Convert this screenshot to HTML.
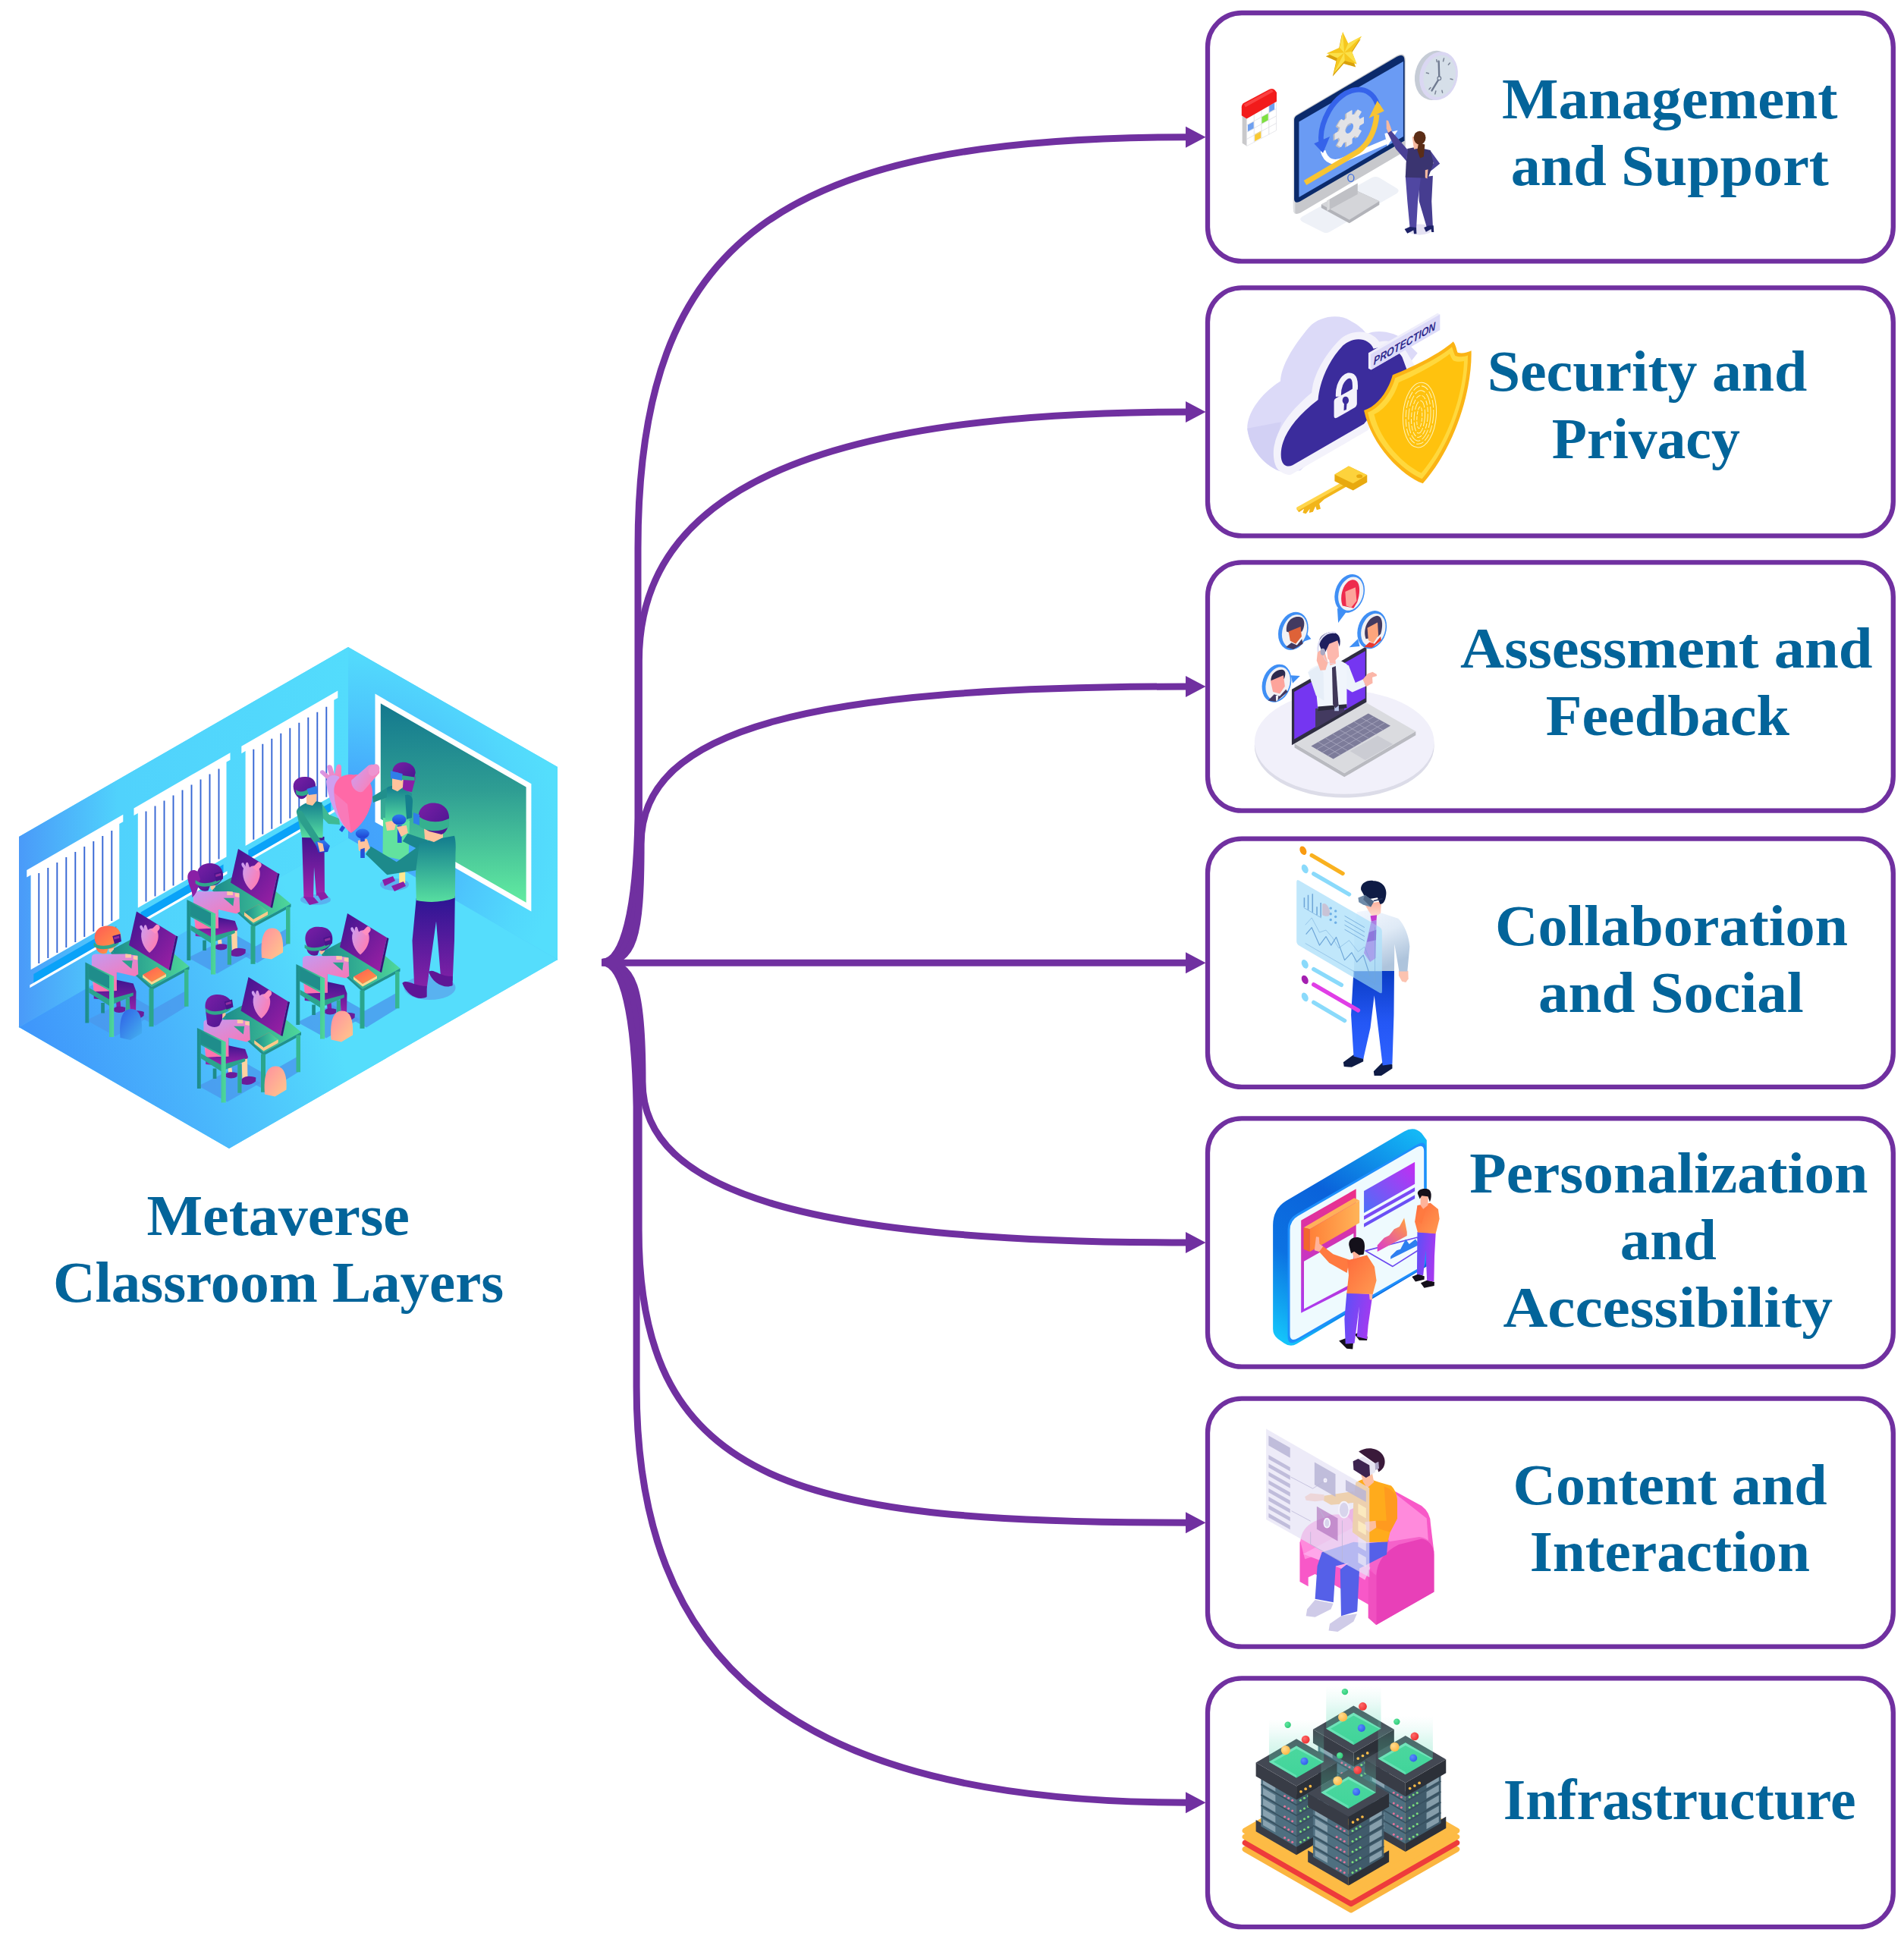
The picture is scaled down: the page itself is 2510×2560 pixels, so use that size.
<!DOCTYPE html>
<html><head><meta charset="utf-8"><title>Metaverse Classroom Layers</title>
<style>
html,body{margin:0;padding:0;background:#fff;}
body{width:2510px;height:2560px;overflow:hidden;font-family:"Liberation Serif",serif;}
svg{display:block;position:absolute;left:0;top:0;}
text{font-family:"Liberation Serif",serif;font-weight:bold;fill:#03649A;}
</style></head><body>
<svg width="2510" height="2560" viewBox="0 0 2510 2560">

<defs>
<linearGradient id="cLW" gradientUnits="userSpaceOnUse" x1="25" y1="0" x2="459" y2="0"><stop offset="0" stop-color="#4a9af9"/><stop offset="0.3" stop-color="#50d2fc"/><stop offset="1" stop-color="#53dcfc"/></linearGradient>
<radialGradient id="cRW" gradientUnits="userSpaceOnUse" cx="459" cy="1110" r="280"><stop offset="0" stop-color="#429ffc"/><stop offset="0.3" stop-color="#45a9fc"/><stop offset="0.6" stop-color="#4dc6fc"/><stop offset="0.85" stop-color="#52d8fc"/><stop offset="1" stop-color="#54defc"/></radialGradient>
<linearGradient id="cFL" gradientUnits="userSpaceOnUse" x1="60" y1="1420" x2="420" y2="1300"><stop offset="0" stop-color="#3f97fb"/><stop offset="0.45" stop-color="#49b4fc"/><stop offset="1" stop-color="#55ddfc"/></linearGradient>
<linearGradient id="cBoard" gradientUnits="userSpaceOnUse" x1="0" y1="927" x2="0" y2="1185"><stop offset="0" stop-color="#13788e"/><stop offset="0.45" stop-color="#2f9e93"/><stop offset="1" stop-color="#60e9a0"/></linearGradient>
<linearGradient id="cGreen" x1="0" y1="0" x2="0" y2="1"><stop offset="0" stop-color="#127b8e"/><stop offset="1" stop-color="#57dea0"/></linearGradient>
<linearGradient id="cGreenH" x1="0" y1="0" x2="1" y2="0"><stop offset="0" stop-color="#1b8a8b"/><stop offset="1" stop-color="#4fd89a"/></linearGradient>
<linearGradient id="cPurp" x1="0" y1="0" x2="0" y2="1"><stop offset="0" stop-color="#3f158f"/><stop offset="1" stop-color="#a224ac"/></linearGradient>
<linearGradient id="cNavy" x1="0" y1="0" x2="0" y2="1"><stop offset="0" stop-color="#2a1593"/><stop offset="1" stop-color="#8a22a8"/></linearGradient>
<linearGradient id="cMon" x1="0" y1="0" x2="1" y2="1"><stop offset="0" stop-color="#3d1490"/><stop offset="1" stop-color="#a021a5"/></linearGradient>
<linearGradient id="cShirt" x1="0" y1="0" x2="0.6" y2="1"><stop offset="0" stop-color="#c39af2"/><stop offset="1" stop-color="#ff74ae"/></linearGradient>
<linearGradient id="cHeartS" x1="0" y1="0" x2="1" y2="0.6"><stop offset="0" stop-color="#c9a0f5"/><stop offset="1" stop-color="#ff7db2"/></linearGradient>
<linearGradient id="cHair" x1="0" y1="0" x2="1" y2="1"><stop offset="0" stop-color="#7a1fa6"/><stop offset="1" stop-color="#47158f"/></linearGradient>
<linearGradient id="cBlueC" x1="0" y1="0" x2="0" y2="1"><stop offset="0" stop-color="#2f7bf0"/><stop offset="1" stop-color="#1d3fd0"/></linearGradient>
<linearGradient id="cPeach" x1="0" y1="0" x2="1" y2="1"><stop offset="0" stop-color="#ff8fa0"/><stop offset="1" stop-color="#ffc98a"/></linearGradient>
<linearGradient id="cBag" x1="0" y1="0" x2="1" y2="1"><stop offset="0" stop-color="#2f5fe6"/><stop offset="1" stop-color="#45b4f0"/></linearGradient>
<linearGradient id="cOrange" x1="0" y1="0" x2="1" y2="1"><stop offset="0" stop-color="#ff5a55"/><stop offset="1" stop-color="#ff9a45"/></linearGradient>

<!-- window blind unit: origin at header top-left; goes right-up with slope -0.577, width 127 -->
<g id="cWin">
  <path d="M0,0 L127,-73.3 L127,-63.8 L122,-60.9 L122,64 L5.3,131.3 L5.3,6.4 L0,9.5 Z" fill="#fff"/>
  <path d="M9,137 L118,74 L118,86 L9,149 Z" fill="#0aa2f8"/>
  <path d="M4,151.5 L123,82.8 L123,86.6 L4,155.3 Z" fill="#fff"/>
  <g stroke="#3566d4" stroke-width="1.9">
   <path d="M16,4 V123 M28,-3 V116 M40,-10 V109 M52,-17 V102 M64,-24 V95 M76,-31 V88 M88,-38 V81 M100,-45 V74 M112,-52 V67"/>
  </g>
</g>

<!-- mini heart on monitors, centered at 0,0 approx 26x38 -->
<g id="cMiniHeart">
  <path d="M-9,-10 C-13,-14 -12,-18 -9,-17 L-6,-12 C-7,-16 -5,-19 -3,-17 L-1,-11 C4,-15 10,-13 12,-8 C15,2 8,14 1,19 C-7,12 -12,0 -9,-10 Z" fill="url(#cHeartS)"/>
  <path d="M3,-11 L10,-18 C13,-19 16,-15 14,-12 L9,-6 Z" fill="#ff8fc0"/>
</g>

<!-- student desk unit in absolute coords of desk A -->
<g id="cDeskBase">
  <!-- floor shadows -->
  <path d="M150,1300 L203,1330 L247,1305 L247,1326 L205,1352 L150,1322 Z" fill="#4a98ec" opacity="0.8"/>
  <path d="M114,1345 L152,1366 L196,1341 L160,1322 Z" fill="#4a98ec" opacity="0.8"/>
  <!-- desk back/left legs -->
  <path d="M149,1256 h5 v50 h-5 Z" fill="#1e8c8a"/>
  <!-- desk top -->
  <path d="M146,1252.5 L193.4,1227.5 L249.5,1274 L200,1301 Z" fill="url(#cGreenH)"/>
  <path d="M146,1252.5 L200,1301 L249.5,1274 L249.5,1278 L200,1305 L146,1256.5 Z" fill="#22918a"/>
  <!-- desk legs front + right -->
  <path d="M196.5,1303 h6 v50.3 h-6 Z" fill="#2aa58c"/>
  <path d="M243,1278 h5.5 v48.8 h-5.5 Z" fill="#36b790"/>
</g>
<g id="cDeskTop">
  <!-- monitor -->
  <path d="M180,1201.5 L232,1233.5 L222.5,1278.5 L170,1246 Z" fill="url(#cMon)"/>
  <path d="M232,1233.5 L234.5,1234.5 L225,1279.5 L222.5,1278.5 Z" fill="#3a1078"/>
  <use href="#cMiniHeart" x="196" y="1237"/>
  <!-- book -->
  <path d="M188,1285 L207,1274.5 L219,1284 L200,1294.5 Z" fill="url(#cOrange)"/>
  <path d="M188,1285 L200,1294.5 L219,1284 L219,1287.5 L200,1298 L188,1288.5 Z" fill="#ffd890"/>
</g>
<g id="cBookTeal">
  <path d="M188,1285 L207,1274.5 L219,1284 L200,1294.5 Z" fill="url(#cGreenH)"/>
  <path d="M188,1285 L200,1294.5 L219,1284 L219,1288.5 L200,1299 L188,1289.5 Z" fill="#ffc98a"/>
</g>
<g id="cStudentTorso">
  <path d="M120.9,1262 C121,1259 123,1258 126,1257.5 L145.4,1257.8 L166.2,1257.5 L181.4,1259.7 L182.3,1284.3 L177.6,1287.1 L153.9,1281.4 L153.9,1306 L123.7,1307 L120.9,1283.3 Z" fill="url(#cShirt)"/>
  <path d="M160.6,1266.3 L174.7,1266.3 L173.3,1277 Z" fill="#2a9f8d"/>
  <path d="M165.3,1257.5 l7.6,0.5 l0,4.5 l-7.6,0 Z M175.7,1259.7 l5.7,0.5 l0,5.2 l-5.7,-1 Z" fill="#ffc9a5"/>
  <path d="M123.7,1296 L152,1290 L153.9,1306 L123.7,1307 Z" fill="#ff74ae"/>
  <path d="M143.5,1244.6 L149.6,1244 L150,1251.5 L146,1256 L143.5,1254 Z" fill="#ffc09a"/>
</g>
<g id="cLegsSkirt">
  <path d="M123.7,1306.9 L153.9,1291.8 L175.7,1296.5 L179.5,1306.9 L177.6,1311.7 L153,1319.2 L123.7,1316.4 Z" fill="url(#cPurp)"/>
  <path d="M153,1322 l5,-1 l1,10 l-5,1 Z" fill="#ffd9a5"/>
  <path d="M171,1311 L178.5,1309 L179,1336 L172,1338 Z" fill="#ffd2a0"/>
  <path d="M150.2,1329 C154,1326 160,1326.5 165.3,1328 L165,1332.5 C160,1336 154,1335.5 150.2,1333 Z" fill="#6a1b9a"/>
  <path d="M171,1336 C176,1331 184,1332 189.9,1334 L189.5,1339 C184,1344 176,1344.5 171,1342 Z" fill="#6a1b9a"/>
</g>
<g id="cLegsPants">
  <path d="M123.7,1306.9 L153.9,1291.8 L175.7,1296.5 L179.5,1306.9 L179,1336 L172,1338 L170.5,1313 L153,1319.2 L123.7,1316.4 Z" fill="url(#cPurp)"/>
  <path d="M153,1320 l5.5,-1.5 l1,12 l-5.5,1 Z" fill="#7a1fa2"/>
  <path d="M150.2,1329 C154,1326 160,1326.5 165.3,1328 L165,1332.5 C160,1336 154,1335.5 150.2,1333 Z" fill="#6a1b9a"/>
  <path d="M171,1336 C176,1331 184,1332 189.9,1334 L189.5,1339 C184,1344 176,1344.5 171,1342 Z" fill="#6a1b9a"/>
</g>
<g id="cChairFront">
  <path d="M133.2,1322 h4.7 v13.5 h-4.7 Z" fill="#1e8c8a"/>
  <path d="M165.8,1316 h5.2 v38.2 h-5.2 Z" fill="#2fa98e"/>
  <path d="M117.5,1302.2 L144,1317.3 L175.7,1308.4 L175.7,1312.6 L144,1325.8 L117.5,1308.8 Z" fill="#2ba38d"/>
  <path d="M112.4,1268.6 L150.2,1287 L150.2,1367 L144,1367 L144,1306 L117.3,1291 L117.3,1348.5 L112.4,1348.5 Z" fill="url(#cGreenH)"/>
  <path d="M117.3,1273 L144,1286 L144,1303.5 L117.3,1289 Z" fill="#1f8d8b"/>
</g>
<g id="cHeadset">
  <path d="M123.7,1239 C130,1245.5 147,1244.5 156,1236 L156.5,1240.5 C147,1249 130,1250 123.5,1243.5 Z" fill="#2fa78b"/>
  <path d="M148.3,1230.5 L158.5,1227.5 L160,1237.5 L151,1241 Z" fill="#4a148c"/>
  <path d="M150,1232 L157,1230 L157.5,1233 L150.5,1235 Z" fill="#b03aa8" opacity="0.7"/>
</g>
</defs>

<defs>
<linearGradient id="i4shirt" x1="0" y1="0" x2="0.4" y2="1"><stop offset="0" stop-color="#f4f8ff"/><stop offset="0.5" stop-color="#dfeaf6"/><stop offset="1" stop-color="#aec4dc"/></linearGradient>
<linearGradient id="i4pants" x1="0" y1="0" x2="0" y2="1"><stop offset="0" stop-color="#0a3cc4"/><stop offset="0.55" stop-color="#2457f5"/><stop offset="1" stop-color="#2e62ff"/></linearGradient>
<linearGradient id="i4neck" x1="0" y1="0" x2="0" y2="1"><stop offset="0" stop-color="#fbb09c"/><stop offset="1" stop-color="#fde0d6"/></linearGradient>
</defs>

<defs>
<linearGradient id="i5side" gradientUnits="userSpaceOnUse" x1="150" y1="1750" x2="1250" y2="100"><stop offset="0" stop-color="#14c4fa"/><stop offset="0.3" stop-color="#0c72e2"/><stop offset="0.6" stop-color="#0a62da"/><stop offset="1" stop-color="#14b8f6"/></linearGradient>
<linearGradient id="i5mag" x1="0" y1="0" x2="0" y2="1"><stop offset="0" stop-color="#ee2f86"/><stop offset="1" stop-color="#a93af2"/></linearGradient>
<linearGradient id="i5org" x1="0" y1="0" x2="1" y2="0"><stop offset="0" stop-color="#ff8038"/><stop offset="1" stop-color="#ffb458"/></linearGradient>
<linearGradient id="i5pb" x1="0" y1="1" x2="1" y2="0"><stop offset="0" stop-color="#4a70f8"/><stop offset="1" stop-color="#c42cf2"/></linearGradient>
<linearGradient id="i5ch1" x1="0" y1="1" x2="0.8" y2="0"><stop offset="0" stop-color="#d838d0"/><stop offset="1" stop-color="#ff9a48"/></linearGradient>
<linearGradient id="i5shirt" x1="0" y1="0" x2="1" y2="1"><stop offset="0" stop-color="#ff6a3a"/><stop offset="1" stop-color="#ff9a52"/></linearGradient>
<linearGradient id="i5pants" x1="0" y1="0" x2="1" y2="0.3"><stop offset="0" stop-color="#5a50f8"/><stop offset="1" stop-color="#a43af0"/></linearGradient>
</defs>

<defs>
<linearGradient id="i7glow" x1="0" y1="1" x2="0" y2="0"><stop offset="0" stop-color="#3fd4a0" stop-opacity="0.45"/><stop offset="0.6" stop-color="#6fe0c0" stop-opacity="0.22"/><stop offset="1" stop-color="#9feadc" stop-opacity="0"/></linearGradient>
<radialGradient id="i7by" cx="0.35" cy="0.35" r="0.7"><stop offset="0" stop-color="#ffdc90"/><stop offset="1" stop-color="#fdb845"/></radialGradient>
<radialGradient id="i7bb" cx="0.35" cy="0.35" r="0.7"><stop offset="0" stop-color="#5b8cff"/><stop offset="1" stop-color="#2f5fe8"/></radialGradient>
<radialGradient id="i7br" cx="0.35" cy="0.35" r="0.7"><stop offset="0" stop-color="#ff6a6a"/><stop offset="1" stop-color="#ec3030"/></radialGradient>
<radialGradient id="i7bg" cx="0.35" cy="0.35" r="0.7"><stop offset="0" stop-color="#5fe8a0"/><stop offset="1" stop-color="#2fc878"/></radialGradient>
<g id="i7tower">
  <!-- bottom cap -->
  <path d="M-318,450 L0,635 L0,725 L-318,540 Z" fill="#383c46"/>
  <path d="M0,635 L318,450 L318,540 L0,725 Z" fill="#2c3038"/>
  <!-- body -->
  <path d="M-278,90 L0,252 L0,662 L-278,500 Z" fill="#4f6f80"/>
  <path d="M0,252 L278,90 L278,500 L0,662 Z" fill="#405b6b"/>
  <g stroke="#37505f" stroke-width="10" fill="none">
    <path d="M-278,172 L0,334 L278,172 M-278,254 L0,416 L278,254 M-278,336 L0,498 L278,336 M-278,418 L0,580 L278,418"/>
  </g>
  <!-- vents -->
  <g fill="#9db4c0" opacity="0.75">
    <path d="M-262,118 L-165,174 L-165,226 L-262,170 Z M-262,200 L-165,256 L-165,308 L-262,252 Z M-262,282 L-165,338 L-165,390 L-262,334 Z M-262,364 L-165,420 L-165,472 L-262,416 Z M-262,446 L-165,502 L-165,548 L-262,492 Z"/>
    <path d="M262,118 L165,174 L165,226 L262,170 Z M262,200 L165,256 L165,308 L262,252 Z M262,282 L165,338 L165,390 L262,334 Z M262,364 L165,420 L165,472 L262,416 Z M262,446 L165,502 L165,548 L262,492 Z"/>
  </g>
  <!-- leds -->
  <g fill="#e57399">
    <circle cx="-92" cy="262" r="9"/><circle cx="-62" cy="279" r="9"/><circle cx="-32" cy="296" r="9"/>
    <circle cx="-92" cy="344" r="9"/><circle cx="-62" cy="361" r="9"/><circle cx="-32" cy="378" r="9"/>
    <circle cx="-92" cy="426" r="9"/><circle cx="-62" cy="443" r="9"/><circle cx="-32" cy="460" r="9"/>
    <circle cx="-92" cy="508" r="9"/><circle cx="-62" cy="525" r="9"/><circle cx="-32" cy="542" r="9"/>
    <circle cx="-92" cy="590" r="9"/><circle cx="-62" cy="607" r="9"/><circle cx="-32" cy="624" r="9"/>
  </g>
  <g fill="#7be07b">
    <circle cx="32" cy="296" r="9"/><circle cx="62" cy="279" r="9"/><circle cx="92" cy="262" r="9"/>
    <circle cx="32" cy="378" r="9"/><circle cx="62" cy="361" r="9"/><circle cx="92" cy="344" r="9"/>
    <circle cx="32" cy="460" r="9"/><circle cx="62" cy="443" r="9"/><circle cx="92" cy="426" r="9"/>
    <circle cx="32" cy="542" r="9"/><circle cx="62" cy="525" r="9"/><circle cx="92" cy="508" r="9"/>
    <circle cx="32" cy="624" r="9"/><circle cx="62" cy="607" r="9"/><circle cx="92" cy="590" r="9"/>
  </g>
  <!-- top cap -->
  <path d="M-318,0 L0,185 L0,292 L-318,107 Z" fill="#383c46"/>
  <path d="M0,185 L318,0 L318,107 L0,292 Z" fill="#2c3038"/>
  <path d="M-318,0 L0,-185 L318,0 L0,185 Z" fill="#434853"/>
  <g fill="#fdbb45"><circle cx="35" cy="228" r="11"/><circle cx="72" cy="207" r="11"/><circle cx="109" cy="186" r="11"/></g>
  <!-- glass -->
  <path d="M-215,-5 L0,-130 L215,-5 L0,120 Z" fill="#3fd493"/>
  <path d="M-215,-5 L0,-130 L215,-5 L195,-5 L0,-108 L-180,-5 L0,100 L0,120 Z" fill="#86ebc6" opacity="0.8"/>
  <!-- glow column -->
  <path d="M-215,-5 L-215,-340 L215,-340 L215,-5 L0,120 Z" fill="url(#i7glow)"/>
  <circle cx="-68" cy="-295" r="25" fill="url(#i7bg)"/>
  <circle cx="72" cy="-180" r="32" fill="url(#i7br)"/>
  <circle cx="-85" cy="-97" r="36" fill="url(#i7by)"/>
  <circle cx="62" cy="-10" r="30" fill="url(#i7bb)"/>
</g>
</defs>

<g fill="none" stroke="#7030A0" stroke-width="9" stroke-linecap="butt" stroke-linejoin="round">
<path d="M793.0,1268.6 C822,1268.6 839.0,1198.6 841.0,1078.6 L841.0,722.5 C841.0,313.4 1030.4,180.7 1566.0,180.7"/>
<path d="M793.0,1268.6 C828,1268.6 842.4,1218.6 842.4,1108.6 L842.4,870.8 C842.4,651.7 1066.3,542.9 1566.0,542.9"/>
<path d="M793.0,1268.6 C835,1268.6 845.1,1238.6 845.1,1112.5 L845.1,1112.5 C845.1,959.8 1065.9,905.0 1566.0,905.0"/>
<path d="M793.0,1268.6 C835,1268.6 847.0,1298.6 847.0,1426.1 L847.0,1426.1 C847.0,1572.2 1065.3,1638.0 1566.0,1638.0"/>
<path d="M793.0,1268.6 C828,1268.6 842.1,1318.6 842.1,1428.6 L842.1,1621.5 C842.1,1962.7 1062.0,2007.2 1566.0,2007.2"/>
<path d="M793.0,1268.6 C822,1268.6 837.1,1338.6 839.1,1458.6 L839.1,1828.3 C839.1,2184.4 1034.2,2376.2 1566.0,2376.2"/>
<path d="M793.0,1269.3 L1566,1269.3"/>
</g>
<g fill="#7030A0">
<path d="M1563,166.7 L1589.5,180.7 L1563,194.7 Z"/>
<path d="M1563,528.9 L1589.5,542.9 L1563,556.9 Z"/>
<path d="M1563,891.0 L1589.5,905.0 L1563,919.0 Z"/>
<path d="M1563,1255.3 L1589.5,1269.3 L1563,1283.3 Z"/>
<path d="M1563,1624.1 L1589.5,1638.1 L1563,1652.1 Z"/>
<path d="M1563,1993.2 L1589.5,2007.2 L1563,2021.2 Z"/>
<path d="M1563,2362.2 L1589.5,2376.2 L1563,2390.2 Z"/>
</g>
<g fill="#fff" stroke="#7030A0" stroke-width="6.3">
<rect x="1592.0" y="17.0" width="903.8" height="327.4" rx="45" ry="45"/>
<rect x="1592.0" y="379.4" width="903.8" height="327.0" rx="45" ry="45"/>
<rect x="1592.0" y="741.4" width="903.8" height="327.2" rx="45" ry="45"/>
<rect x="1592.0" y="1105.7" width="903.8" height="327.2" rx="45" ry="45"/>
<rect x="1592.0" y="1474.4" width="903.8" height="327.3" rx="45" ry="45"/>
<rect x="1592.0" y="1843.7" width="903.8" height="326.9" rx="45" ry="45"/>
<rect x="1592.0" y="2212.3" width="903.8" height="327.9" rx="45" ry="45"/>
</g>
<g id="classroom">
  <!-- walls and floor -->
  <path d="M25,1103 L459,853 L735,1011 L735,1265 L302,1514 L25,1354 Z" fill="#52d6fc"/>
  <path d="M25,1354 L459,1105 L735,1265" fill="none" stroke="#4fc6fc" stroke-width="1.5"/>
  <path d="M25,1103 L459,853 L459,1105 L25,1354 Z" fill="url(#cLW)"/>
  <path d="M459,853 L735,1011 L735,1265 L459,1105 Z" fill="url(#cRW)"/>
  <path d="M25,1354 L459,1105 L735,1265 L302,1514 Z" fill="url(#cFL)"/>
  
  <!-- windows -->
  <use href="#cWin" x="35.3" y="1147"/>
  <use href="#cWin" x="176.5" y="1065.5"/>
  <use href="#cWin" x="318.3" y="983.7"/>
  <!-- board -->
  <path d="M494.5,914.6 L700.4,1033.3 L700.4,1201.4 L494.5,1083.7 Z" fill="#fff"/>
  <path d="M501.8,927.2 L693.6,1037.5 L693.6,1189.8 L501.8,1079.5 Z" fill="url(#cBoard)"/>

  <!-- desk B (back-left, ponytail) -->
  <g transform="translate(134,-82.5)">
    <use href="#cDeskBase"/>
    <path d="M211,1345 C209,1318 214,1306 225,1306 C236,1306 240,1318 239,1338 L224,1347 Z" fill="url(#cPeach)"/>
    <use href="#cLegsSkirt"/>
    <use href="#cStudentTorso"/>
    <use href="#cDeskTop"/>
    <use href="#cBookTeal"/>
    <use href="#cChairFront"/>
    <g transform="translate(0,3.6)">
    <path d="M126,1243 C126.5,1251 133,1255.5 140.5,1253 L143.5,1245 Z" fill="url(#cHair)"/>
    <path d="M126,1236 C124,1222 134,1216 145,1217 C156,1218 161,1226 160,1236 C156,1244 150,1248 142,1246 C134,1250 127,1244 126,1236 Z" fill="url(#cHair)"/>
    <path d="M127,1228 C118,1222 111,1230 114,1240 C116,1250 121,1256 119,1262 C128,1256 127,1244 130,1238 Z" fill="#8a1fa6"/>
    <use href="#cHeadset"/>
    </g>
  </g>
  <!-- desk D (right) -->
  <g transform="translate(278,2.5)">
    <use href="#cDeskBase"/>
    <use href="#cLegsPants"/>
    <use href="#cStudentTorso"/>
    <use href="#cDeskTop"/>
    <use href="#cChairFront"/>
    <path d="M158.5,1368 C156.5,1342 162,1330 173,1330 C184,1330 188,1342 187,1362 L172,1371 Z" fill="url(#cPeach)"/>
    <g transform="translate(0,3.6)">
    <path d="M126,1243 C126.5,1251 133,1255.5 140.5,1253 L143.5,1245 Z" fill="url(#cHair)"/>
    <path d="M125,1236 C122,1222 132,1214 144,1216 C157,1216 162,1226 160,1236 C156,1244 150,1249 143,1247 C134,1251 127,1245 125,1236 Z" fill="url(#cHair)"/>
    <use href="#cHeadset"/>
    </g>
  </g>
  <!-- desk A (front-left, orange hair) -->
  <g>
    <use href="#cDeskBase"/>
    <use href="#cLegsPants"/>
    <use href="#cStudentTorso"/>
    <use href="#cDeskTop"/>
    <use href="#cChairFront"/>
    <path d="M158.5,1368 C156.5,1342 162,1330 173,1330 C184,1330 188,1342 187,1362 L172,1371 Z" fill="url(#cBag)"/>
    <g transform="translate(0,3.6)">
    <path d="M126,1243 C126.5,1251 133,1255.5 140.5,1253 L143.5,1245 Z" fill="url(#cOrange)"/>
    <path d="M125,1236 C123,1222 133,1216 144,1217 C156,1217 161,1226 159,1235 C155,1243 150,1248 143,1247 C134,1250 127,1244 125,1236 Z" fill="url(#cOrange)"/>
    <use href="#cHeadset"/>
    </g>
  </g>
  <!-- desk C (front-middle, long hair) -->
  <g transform="translate(147.5,86.5)">
    <use href="#cDeskBase"/>
    <path d="M201.5,1356 C199.5,1330 205,1319 216,1319 C227,1319 231,1331 230,1350 L215,1359 Z" fill="url(#cPeach)"/>
    <use href="#cLegsSkirt"/>
    <use href="#cStudentTorso"/>
    <use href="#cDeskTop"/>
    <use href="#cBookTeal"/>
    <use href="#cChairFront"/>
    <g transform="translate(0,3.6)">
    <path d="M126,1243 C126.5,1251 133,1255.5 140.5,1253 L143.5,1245 Z" fill="url(#cHair)"/>
    <path d="M123.2,1239 C122,1226 130,1220.9 139,1220.9 C150,1220.9 158,1227 158.7,1235 L156,1240 L146,1243 L145.4,1254 L141.7,1261.6 C136,1266 128,1263 125.6,1259.7 Z" fill="url(#cHair)"/>
    <use href="#cHeadset"/>
    </g>
  </g>

  <!-- standing boy (left of heart) -->
  <ellipse cx="416" cy="1186" rx="20" ry="7" fill="#5aa8ec" opacity="0.8"/>
  <path d="M398,1102 L427.5,1103 L428,1178 L417,1181 L414,1143 L413,1184 L400.5,1184 Z" fill="url(#cPurp)"/>
  <path d="M400,1182 l14,1 l6,7 l-12,3 Z M417,1177 l11,-1 l5,7 l-10,4 Z" fill="#8a1fa6"/>
  <path d="M425,1060 L434,1074 L447,1079 L448,1087 L433,1086 L422,1075 Z" fill="#3fba94"/>
  <path d="M390.8,1070 C391,1064 402,1058 414,1055.5 L424.5,1058 L426,1078 L425.5,1104.5 L398,1104 Z" fill="url(#cGreen)"/>
  <path d="M390.8,1070 C396,1066 400,1070 402,1076 L426,1113 L419,1118 L396,1084 Z" fill="#2c9f8c"/>
  <path d="M415,1110 l12,-3 l8,8 l-3,8 l-12,1 Z" fill="url(#cBlueC)"/>
  <path d="M418.5,1110 l7,2 l2,10 l-6,1 Z" fill="#ffc39c"/>
  <path d="M404,1046 L417.4,1044 L417,1056 L412,1062 L404,1060 Z" fill="#ffc39c"/>
  <path d="M387,1040 C385,1030 392,1024 401,1024 C411,1023 417,1029 416,1037 L406,1043 C406,1050 399,1056 394,1052 C390,1049 388,1045 387,1040 Z" fill="url(#cHair)"/>
  <path d="M390,1041 C395,1045 402,1044 406,1040 L407,1046 C402,1050 395,1050 390.5,1047 Z" fill="#2fa78b"/>
  <path d="M404.5,1040 L417.5,1036 L418.5,1046.5 L407,1048 Z" fill="#2f7fe8"/>

  <!-- girl behind (right of heart) -->
  <ellipse cx="520" cy="1166" rx="19" ry="8" fill="#5aa8ec" opacity="0.8"/>
  <path d="M526.2,1140 h8 v24 h-8 Z" fill="#ffe88f"/>
  <path d="M504,1160 l14,-5 l3,6 l-14,7 Z M516,1168 l16,-6 l3,6 l-15,7 Z" fill="#8a1fa6"/>
  <path d="M505,1078 L540,1082 L538.5,1136 L504.5,1128 Z" fill="#62e29f"/>
  <path d="M532,1010 C541,1010 548,1018 547.5,1027 L543,1044 L531,1042 L530,1028 Z" fill="#8a1fa6"/>
  <path d="M508,1042 C509,1037 516,1035 522,1036 L543,1046 L544,1070 L538,1084 L508,1081 Z" fill="url(#cGreen)"/>
  <path d="M534,1048 C540,1046 544,1050 544,1056 L543,1078 L536,1080 Z" fill="#157f8d"/>
  <path d="M510,1038.5 L491,1050 L492,1058 L510,1051 Z" fill="#218f8c"/>
  <path d="M517,1026 L531.8,1025 L531,1038 L524,1043.3 L517,1040 Z" fill="#ffc39c"/>
  <path d="M517.7,1020 C516,1010 524,1004.5 532,1004.7 C541,1005 548,1011 547.7,1019 L545,1027 L531,1024 L524,1018 Z" fill="url(#cHair)"/>
  <path d="M514.8,1016 L530.7,1020 L530,1029 L515,1026 Z" fill="#2f7fe8"/>
  <path d="M530,1022 L546.5,1024.5 L546.5,1029 L530,1028 Z" fill="#2fa78b"/>
  <path d="M508,1084 l8,-2 l6,4 l-2,8 l-10,1 Z" fill="#ffc39c"/>

  <!-- big heart -->
  <path d="M431,1027 L422,1019 C421,1015 426,1014 428,1017 L434,1022 L431,1011 C432,1007 437,1008 438,1011 L441,1021 L443.5,1010 C445,1006 450,1007 450,1011 L450,1024 L442,1034 Z" fill="url(#cHeartS)"/>
  <path d="M430,1030 C432,1022 440,1020 447,1024 L462,1097 C448,1088 432,1056 430,1030 Z" fill="#cf9ff0"/>
  <path d="M440.5,1045 C439,1028 452,1019 466,1021.5 C483,1018 494,1034 490.5,1053 C488,1072 476,1090 462.7,1098 C450,1088 441.5,1066 440.5,1045 Z" fill="#ff69a7"/>
  <path d="M440.5,1045 C441.5,1066 450,1088 462.7,1098 L458,1060 Z" fill="#f585c5" opacity="0.6"/>
  <path d="M463.3,1028.5 L485.4,1009.3 C492,1005 502,1010 500,1019 L478.6,1043.3 C472,1047 462,1038 463.3,1028.5 Z" fill="url(#cHeartS)"/>
  <ellipse cx="493" cy="1015" rx="6.5" ry="8.5" transform="rotate(40 493 1015)" fill="#ee94d0"/>
  <path d="M451,1088 l4,3 l-4,6 l-4,-3 Z" fill="#2450d8"/>

  <!-- teacher -->
  <ellipse cx="566.6" cy="1302" rx="34" ry="16" fill="#5aa8ec" opacity="0.8"/>
  <path d="M548.8,1184 L599.8,1181 L599,1240 L596.7,1293 L581.2,1290 L575,1214.5 L562.7,1302.5 L546.5,1308 L543.5,1240 Z" fill="url(#cNavy)"/>
  <path d="M530.3,1296 C536,1290 545,1300 562.7,1300 L562.7,1314 C552,1320 536,1312 530.3,1296 Z" fill="#5e1696"/>
  <path d="M565,1281 C572,1276 580,1288 596.7,1287 L596.7,1299 C586,1304 570,1296 565,1281 Z" fill="#5e1696"/>
  <!-- right arm -->
  <path d="M537.5,1098.8 L563.6,1107.8 L560,1124 L530.7,1109 Z" fill="#1a858c"/>
  <!-- left arm -->
  <path d="M488.8,1115.8 L522.8,1136.2 L554.5,1113.5 L556,1146 L550,1147 L510.3,1153.2 L482,1126 Z" fill="#1d8a8b"/>
  <path d="M565,1108 L599,1101.8 C601,1108 601,1118 600.5,1124 L599.8,1183.6 C584,1190 562,1190 548.8,1186.7 L548,1150 L552.7,1112.6 Z" fill="url(#cGreen)"/>
  <path d="M559,1091 L583.6,1089 L584,1104 L572,1110 L560,1106 Z" fill="#ffc39c"/>
  <path d="M551.9,1080 C550,1066 560,1058.5 571.2,1058.5 C584,1058.5 593,1067 592,1080 C592,1090 588,1098 582,1100 L566,1096 C558,1092 553,1086 551.9,1080 Z" fill="url(#cHair)"/>
  <path d="M551,1075 C560,1084 578,1086 592,1079 L592,1090 C580,1098 560,1097 551,1087 Z" fill="#35b08f"/>
  <path d="M545,1071 L553,1074 L553,1088 L545,1085 Z" fill="#2f7fe8"/>
  <!-- controllers -->
  <path d="M471.8,1108 l12,-2 l4,12 l-8,7 l-7,-4 Z" fill="#ffc39c"/>
  <ellipse cx="477.8" cy="1099" rx="9" ry="6.5" fill="url(#cBlueC)"/>
  <path d="M475.2,1104 h5.6 v27 h-5.6 Z" fill="#2450d8"/>
  <path d="M472,1110 l9,-1 l2,8 l-9,3 Z" fill="#ffc39c"/>
  <path d="M523.9,1088 h5.7 v23 h-5.7 Z" fill="#2450d8"/>
  <ellipse cx="526.2" cy="1080.5" rx="9.2" ry="7" fill="url(#cBlueC)"/>
  <path d="M522.8,1090 l13,-2 l2,10 l-9,5 Z" fill="#ffc39c"/>
</g>

<g id="icon1" transform="translate(1620,30) scale(0.16807)">
  <!-- shadow -->
  <path d="M575,1520 L1120,1215 Q1150,1200 1180,1215 L1320,1300 Q1345,1320 1315,1340 L790,1640 Q760,1655 735,1640 L575,1560 Q545,1540 575,1520 Z" fill="#eef1f7"/>
  <!-- stand -->
  <path d="M725,1425 L965,1300 L1180,1400 L1180,1428 L945,1572 L725,1452 Z" fill="#b2b3b9"/>
  <path d="M725,1425 L965,1300 L1180,1400 L945,1545 Z" fill="#d4d5d9"/>
  <path d="M770,1395 L1010,1258 L1010,1345 L770,1475 Z" fill="#bfc0c5"/>
  <path d="M770,1395 L790,1385 L790,1465 L770,1475 Z" fill="#d9dadd"/>
  <!-- monitor body -->
  <path d="M505,765 Q505,735 532,720 L1318,258 Q1385,222 1385,300 L1385,985 Q1385,1005 1365,1017 L562,1490 Q505,1518 505,1458 Z" fill="#c7c8cc"/>
  <path d="M505,765 Q505,735 532,720 L545,712 Q520,730 520,765 L520,1500 Q505,1490 505,1458 Z" fill="#dfe0e3"/>
  <path d="M512,762 Q512,740 532,727 L1318,266 Q1378,234 1378,300 L1378,925 L556,1402 Q512,1422 512,1380 Z" fill="#0b2a6b"/>
  <path d="M550,776 L1368,303 L1368,893 L550,1368 Z" fill="#6a9bf4"/>
  <ellipse cx="957" cy="1217" rx="24" ry="29" fill="none" stroke="#3f6fe0" stroke-width="8"/>
  <!-- screen content -->
  <path d="M738,1005 C760,1090 830,1112 905,1072 L1238,932" fill="none" stroke="#fff" stroke-width="40"/>
  <path d="M1222,868 L1325,843 L1243,968 Z" fill="#fff"/>
  <path d="M1165,640 C1110,470 900,490 785,690 C730,790 712,880 728,955" fill="none" stroke="#3563ea" stroke-width="40"/>
  <path d="M668,948 L792,893 L738,1022 Z" fill="#3563ea"/>
  <path d="M598,1255 L1010,1012 C1100,950 1150,840 1160,720" fill="none" stroke="#f8c432" stroke-width="42"/>
  <path d="M1098,748 L1165,612 L1218,692 Z" fill="#f8c432"/>
  <!-- gear -->
  <g transform="translate(945,828) matrix(0.866,-0.5,0,1,0,0)">
    <g transform="translate(-14,0)" fill="#bcbcc2">
      <circle r="98"/>
      <g id="i1teeth"><rect x="-26" y="-132" width="52" height="264" rx="6"/><rect x="-26" y="-132" width="52" height="264" rx="6" transform="rotate(45)"/><rect x="-26" y="-132" width="52" height="264" rx="6" transform="rotate(90)"/><rect x="-26" y="-132" width="52" height="264" rx="6" transform="rotate(135)"/></g>
    </g>
    <g fill="#e3e3e6">
      <circle r="98"/>
      <use href="#i1teeth"/>
    </g>
    <circle r="36" fill="#6a9bf4"/>
    <path d="M-36,0 A36,36 0 0 1 20,-30 L8,-22 A26,26 0 0 0 -30,8 Z" fill="#bcbcc2"/>
  </g>
  <!-- star -->
  <path d="M885,95 L928,185 L1034,128 L956,248 L995,348 L901,321 L814,421 L842,300 L760,263 L860,218 Z" fill="#d9a10c"/>
  <path d="M893,72 L936,162 L1042,105 L964,225 L1003,325 L909,298 L822,398 L850,277 L768,240 L868,195 Z" fill="#f6c71e"/>
  <path d="M893,72 L905,235 L868,195 Z M1042,105 L905,235 L936,162 Z M1003,325 L905,235 L964,225 Z M822,398 L905,235 L909,298 Z M768,240 L905,235 L850,277 Z" fill="#fbe04a"/>
  <!-- clock -->
  <g transform="rotate(14 1640 418)">
    <ellipse cx="1610" cy="420" rx="150" ry="196" fill="#c6ccd6"/>
    <ellipse cx="1645" cy="416" rx="148" ry="192" fill="#dad7f2"/>
    <ellipse cx="1652" cy="416" rx="124" ry="166" fill="#d6dfe9"/>
    <g stroke="#7b8496" stroke-width="9" stroke-linecap="round">
      <path d="M1652,272 v24 M1652,536 v24 M1546,416 h18 M1740,416 h18 M1598,296 l8,16 M1706,296 l-8,16 M1598,536 l8,-16 M1706,536 l-8,-16"/>
    </g>
  </g>
  <path d="M1650,436 L1646,302" stroke="#6f7a90" stroke-width="14" stroke-linecap="round"/>
  <path d="M1650,436 L1592,532" stroke="#6f7a90" stroke-width="14" stroke-linecap="round"/>
  <circle cx="1650" cy="436" r="14" fill="#d6dfe9" stroke="#6f7a90" stroke-width="7"/>
  <!-- calendar -->
  <path d="M105,725 L140,748 L140,967 L105,945 Z" fill="#c9c9cb"/>
  <path d="M140,748 L372,618 L372,845 L140,967 Z" fill="#fff" stroke="#dcdce2" stroke-width="4"/>
  <path d="M316,650 L358,627 L358,680 L316,703 Z" fill="#6fa0f0"/>
  <path d="M257,738 L308,710 L308,765 L257,793 Z" fill="#7ee040"/>
  <path d="M148,800 L195,775 L195,830 L148,855 Z" fill="#6fa0f0"/>
  <path d="M203,875 L252,848 L252,903 L203,930 Z" fill="#f9c931"/>
  <g stroke="#d6d6dc" stroke-width="4" fill="none">
    <path d="M198,716 V937 M256,683 V906 M314,650 V876 M140,803 L372,675 M140,858 L372,731 M140,913 L372,788"/>
  </g>
  <path d="M100,662 Q100,640 120,628 L318,522 Q345,510 362,530 L375,548 L375,618 L140,752 L100,728 Z" fill="#f21b1b"/>
  <path d="M118,640 L335,522 L350,540 L130,662 Z" fill="#ff5050" opacity="0.7"/>
  <!-- person -->
  <ellipse cx="1495" cy="1622" rx="98" ry="42" fill="#e5e2f3"/>
  <path d="M1490,1215 L1600,1200 L1590,1400 L1600,1598 L1552,1604 L1492,1400 Z" fill="#463d90"/>
  <path d="M1385,1200 L1505,1215 L1482,1400 L1470,1612 L1420,1612 L1400,1400 Z" fill="#5047a2"/>
  <path d="M1378,1618 L1420,1600 L1470,1606 L1472,1655 L1452,1655 L1448,1628 L1400,1652 Z" fill="#1e2268"/>
  <path d="M1530,1606 L1565,1592 L1605,1590 L1608,1642 L1590,1642 L1586,1618 L1546,1640 Z" fill="#1e2268"/>
  <path d="M1578,1000 L1655,1105 L1572,1172 L1548,1150 L1608,1100 L1555,1035 Z" fill="#4c4398"/>
  <path d="M1400,988 L1470,975 L1580,1000 L1605,1100 L1562,1218 L1385,1212 L1390,1100 Z" fill="#3a3470"/>
  <path d="M1405,1000 L1268,842 L1244,862 L1310,990 L1392,1085 Z" fill="#4a4195"/>
  <path d="M1235,765 L1250,768 L1266,810 L1278,843 L1250,862 L1236,830 Z" fill="#f5b9a0"/>
  <path d="M1540,1156 L1562,1150 L1556,1222 L1540,1216 Z" fill="#f5b9a0"/>
  <path d="M1438,895 L1482,880 L1492,985 L1452,992 Z" fill="#f5b9a0"/>
  <ellipse cx="1497" cy="902" rx="47" ry="53" fill="#5b2d16"/>
  <path d="M1488,940 L1537,955 L1528,1050 L1500,1062 L1478,1000 Z" fill="#5b2d16"/>
</g>

<g id="icon2" transform="translate(1630,395) scale(0.16807)">
  <!-- cloud side (lavender) -->
  <path d="M85,1010 C85,880 200,730 345,640 C350,520 440,370 570,215 C660,120 820,110 900,170 C960,200 1000,240 1020,270 C1100,230 1250,250 1330,330 L1420,420 L1200,700 L500,1340 L340,1345 C200,1290 100,1150 85,1010 Z" fill="#dcdaf8"/>
  <path d="M85,1010 C100,1150 200,1290 340,1345 L420,1372 L300,1200 L350,960 Z" fill="#d2d0f4"/>
  <!-- cloud front white border -->
  <path d="M345,1348 C290,1320 280,1200 300,1130 C330,1000 430,860 590,730 C600,600 690,430 820,305 C920,225 1060,240 1120,330 C1200,310 1300,340 1340,420 L1400,520 L1030,1025 L430,1372 C400,1380 370,1365 345,1348 Z" fill="#f3f2fb"/>
  <!-- indigo face -->
  <path d="M372,1292 C340,1260 345,1180 365,1120 C400,1010 500,890 640,785 C650,650 720,480 835,360 C920,285 1040,300 1075,385 C1160,360 1270,390 1300,450 L1340,560 L1000,975 L440,1298 C415,1310 390,1308 372,1292 Z" fill="#3b2c9c"/>
  <!-- lock -->
  <path d="M800,760 C795,680 830,610 880,595 C925,590 935,640 930,705" fill="none" stroke="#f3f2fb" stroke-width="42"/>
  <path d="M765,800 Q765,780 785,770 L920,695 Q945,685 945,710 L945,815 Q945,835 925,848 L790,925 Q765,938 765,915 Z" fill="#f3f2fb"/>
  <ellipse cx="856" cy="790" rx="25" ry="30" fill="#3b2c9c"/>
  <path d="M845,800 L868,792 L862,862 L842,870 Z" fill="#3b2c9c"/>
  <!-- PROTECTION label -->
  <path d="M1035,418 L1578,106 L1596,116 L1596,238 L1056,550 L1035,540 Z" fill="#efeefb"/>
  <path d="M1052,428 L1596,116 L1596,238 L1056,550 Z" fill="#dcdaf8"/>
  <text transform="translate(1076,514) matrix(0.866,-0.5,0,1,0,0)" font-family="Liberation Sans, sans-serif" font-style="italic" font-weight="bold" font-size="88" textLength="560" lengthAdjust="spacingAndGlyphs" style="font-family:'Liberation Sans',sans-serif;fill:#2e2a8c">PROTECTION</text>
  <!-- shield -->
  <path d="M1000,868 C1100,840 1190,720 1225,590 C1400,520 1600,420 1700,328 C1720,350 1725,390 1735,415 C1770,425 1810,415 1842,400 C1850,700 1720,1150 1462,1442 C1300,1380 1060,1150 1000,868 Z" fill="#fbb414"/>
  <path d="M1030,885 C1120,850 1210,740 1245,615 C1400,550 1590,455 1690,370 C1700,395 1705,420 1715,440 C1750,452 1790,448 1815,438 C1815,700 1700,1120 1455,1405 C1310,1345 1085,1140 1030,885 Z" fill="#ffd83d"/>
  <path d="M1080,900 C1160,865 1240,760 1272,650 C1410,590 1580,500 1672,425 C1680,445 1690,465 1700,478 C1730,490 1760,488 1785,482 C1780,720 1670,1100 1450,1360 C1320,1300 1130,1120 1080,900 Z" fill="#ffc20e"/>
  <g fill="none" stroke="#fff3b8" stroke-width="6">
    <ellipse cx="1437" cy="905" rx="130" ry="255" transform="rotate(4 1437 905)"/>
    <ellipse cx="1437" cy="905" rx="108" ry="228" transform="rotate(4 1437 905)" stroke-dasharray="60 14"/>
    <ellipse cx="1437" cy="910" rx="86" ry="198" transform="rotate(4 1437 905)" stroke-dasharray="90 16"/>
    <ellipse cx="1437" cy="915" rx="64" ry="165" transform="rotate(4 1437 905)" stroke-dasharray="40 12"/>
    <ellipse cx="1437" cy="920" rx="42" ry="128" transform="rotate(4 1437 905)" stroke-dasharray="70 14"/>
    <ellipse cx="1437" cy="925" rx="20" ry="85" transform="rotate(4 1437 905)" stroke-dasharray="30 10"/>
  </g>
  <!-- key -->
  <path d="M470,1640 L845,1432 L865,1465 L690,1565 L650,1600 L660,1640 L630,1650 L620,1620 L600,1665 L570,1672 L575,1640 L545,1680 L520,1672 L530,1640 L490,1668 Z" fill="#f2b51a"/>
  <path d="M470,1630 L845,1422 L858,1445 L482,1655 Z" fill="#ffd54a"/>
  <path d="M770,1372 L880,1306 L1025,1376 L1025,1432 L915,1497 L770,1424 Z" fill="#e8a90f"/>
  <path d="M770,1372 L880,1306 L1025,1376 L915,1442 Z" fill="#fdd23c"/>
  <ellipse cx="965" cy="1385" rx="24" ry="15" fill="#e8a90f"/>
</g>

<g id="icon3" transform="translate(1640,745) scale(0.16222)">
  <!-- platform -->
  <ellipse cx="815" cy="1470" rx="730" ry="420" fill="#dcdce8"/>
  <ellipse cx="815" cy="1440" rx="730" ry="420" fill="#f1f0fa"/>
  <!-- laptop base -->
  <path d="M410,1450 L815,1690 L1395,1350 L1395,1382 L815,1722 L410,1482 Z" fill="#b9bac0"/>
  <path d="M410,1450 L990,1115 L1395,1350 L815,1690 Z" fill="#dadbdf"/>
  <path d="M545,1470 L1010,1205 L1190,1305 L725,1575 Z" fill="#7d7c9a"/>
  <g stroke="#a9a8c0" stroke-width="5" fill="none">
    <path d="M590,1497 L1055,1230 M635,1523 L1100,1255 M680,1549 L1145,1280 M603,1437 L783,1542 M661,1404 L841,1508 M719,1371 L899,1475 M777,1338 L957,1442 M835,1305 L1015,1408 M893,1272 L1073,1375 M951,1239 L1131,1342"/>
  </g>
  <path d="M860,1510 L1085,1385 L1210,1455 L985,1585 Z" fill="#cbccd3"/>
  <!-- screen -->
  <path d="M388,1010 L995,660 L995,1112 L388,1462 Z" fill="#2f2e41"/>
  <path d="M408,1030 L985,698 L985,1082 L408,1415 Z" fill="#7536f1"/>
  <!-- agent lower -->
  <path d="M580,1165 L815,1140 L815,1190 L580,1325 Z" fill="#433a60"/>
  <!-- right arm (extended) -->
  <path d="M790,790 L850,815 L905,955 L972,925 L988,985 L880,1032 L825,1000 Z" fill="#edf3fb"/>
  <path d="M965,930 L1005,882 L1045,868 L1078,888 L1042,906 L1045,958 L992,988 Z" fill="#fbb6a8"/>
  <path d="M1005,900 L1075,885 L1080,900 L1015,920 Z" fill="#fbb6a8"/>
  <!-- torso -->
  <path d="M520,870 C540,830 600,812 640,800 L770,768 L835,805 L835,1150 L600,1172 L585,1010 Z" fill="#f0f5fc"/>
  <path d="M600,1150 L835,1130 L835,1160 L600,1185 Z" fill="#2b2a3c"/>
  <path d="M735,1140 h35 v45 h-35 Z" fill="#b8c4e8"/>
  <path d="M715,832 L745,820 L768,1140 L742,1162 L722,1130 Z" fill="#3f3758"/>
  <!-- left arm up -->
  <path d="M520,870 L600,822 L645,870 L650,1100 L585,1060 Z" fill="#e6eef8"/>
  <path d="M598,700 L650,688 L682,790 L662,852 L620,855 L590,775 Z" fill="#fbb6a8"/>
  <!-- head -->
  <path d="M668,640 L762,598 L772,742 L722,792 L680,762 Z" fill="#fdb8ae"/>
  <path d="M690,760 L740,740 L745,800 L700,815 Z" fill="#fdb8ae"/>
  <path d="M612,645 C598,585 660,540 722,545 C772,550 792,600 776,662 L760,612 L692,640 L662,702 L640,722 Z" fill="#1e1f5e"/>
  <path d="M602,705 C590,610 660,535 740,548" fill="none" stroke="#dcdcf2" stroke-width="14"/>
  <ellipse cx="640" cy="705" rx="20" ry="28" fill="#a9a9c4"/>
  <path d="M645,735 C660,790 700,805 730,798" fill="none" stroke="#dcdcf2" stroke-width="5"/>
  <!-- bubbles -->
  <g>
    <path d="M758,350 L765,468 L835,375 Z" fill="#3f8ff5"/>
    <ellipse cx="858" cy="230" rx="118" ry="160" transform="rotate(18 858 230)" fill="#3f8ff5"/>
    <ellipse cx="868" cy="232" rx="98" ry="140" transform="rotate(18 868 232)" fill="#f2f2f5"/>
    <path d="M800,330 C770,250 810,130 880,118 C945,115 950,210 920,300 L890,350 Z" fill="#ee2b4d"/>
    <path d="M822,215 L905,180 L915,290 L870,345 L830,330 Z" fill="#fda49b"/>
  </g>
  <g>
    <path d="M495,540 L545,600 L470,625 Z" fill="#3f8ff5"/>
    <ellipse cx="400" cy="535" rx="118" ry="158" transform="rotate(18 400 535)" fill="#3f8ff5"/>
    <ellipse cx="410" cy="537" rx="98" ry="138" transform="rotate(18 410 537)" fill="#f2f2f5"/>
    <path d="M345,540 C335,450 400,410 455,420 C500,430 495,500 470,540 L400,560 Z" fill="#433a60"/>
    <path d="M362,540 L460,500 L468,580 L420,640 L375,615 Z" fill="#de6238"/>
    <path d="M340,665 L385,630 L430,650 L470,600 L478,640 L400,685 Z" fill="#433a60"/>
  </g>
  <g>
    <path d="M925,600 L855,668 L940,660 Z" fill="#3f8ff5"/>
    <ellipse cx="1040" cy="525" rx="115" ry="158" transform="rotate(18 1040 525)" fill="#3f8ff5"/>
    <ellipse cx="1050" cy="527" rx="95" ry="138" transform="rotate(18 1050 527)" fill="#f2f2f5"/>
    <path d="M990,600 C960,520 1010,420 1080,412 C1130,415 1130,500 1110,560 L1090,580 Z" fill="#433a60"/>
    <path d="M1002,510 L1085,465 L1092,570 L1050,635 L1010,610 Z" fill="#fda57c"/>
    <path d="M975,665 L1020,625 L1060,640 L1110,580 L1115,610 L1040,670 Z" fill="#e8392e"/>
  </g>
  <g>
    <path d="M380,895 L455,900 L395,960 Z" fill="#3f8ff5"/>
    <ellipse cx="265" cy="960" rx="115" ry="158" transform="rotate(18 265 960)" fill="#3f8ff5"/>
    <ellipse cx="275" cy="962" rx="95" ry="138" transform="rotate(18 275 962)" fill="#f2f2f5"/>
    <path d="M218,940 C215,880 270,845 315,850 C345,860 335,900 325,925 L240,950 Z" fill="#2b2b4f"/>
    <path d="M215,940 L320,895 L332,985 L290,1045 L235,1030 Z" fill="#fda49b"/>
    <path d="M195,1100 L245,1050 L290,1065 L340,1010 L355,1030 L260,1110 Z" fill="#433a60"/>
    <path d="M258,1062 l22,-8 l-6,45 l-14,8 Z" fill="#f2f2f5"/>
  </g>
</g>

<g id="icon4" transform="translate(1680,1100) scale(0.16988)">
  <!-- list lines -->
  <g stroke-linecap="round" stroke-width="32" fill="none">
    <path d="M290,162 L530,303" stroke="#f9b11f"/>
    <path d="M305,305 L580,465" stroke="#8adafb"/>
    <path d="M305,1045 L520,1168" stroke="#8adafb"/>
    <path d="M305,1303 L545,1445" stroke="#8adafb"/>
  </g>
  <ellipse cx="223" cy="125" rx="24" ry="36" transform="rotate(-25 223 125)" fill="#f99a10"/>
  <ellipse cx="237" cy="267" rx="24" ry="36" transform="rotate(-25 237 267)" fill="#8adafb"/>
  <ellipse cx="237" cy="1006" rx="24" ry="36" transform="rotate(-25 237 1006)" fill="#8adafb"/>
  <ellipse cx="237" cy="1127" rx="24" ry="36" transform="rotate(-25 237 1127)" fill="#a41fb0"/>
  <ellipse cx="237" cy="1262" rx="24" ry="36" transform="rotate(-25 237 1262)" fill="#8adafb"/>
  <!-- man -->
  <path d="M690,1725 L615,1708 L535,1768 L540,1802 L600,1806 L690,1762 Z" fill="#0e1b45"/>
  <path d="M915,1785 L840,1768 L770,1838 L775,1872 L830,1872 L915,1816 Z" fill="#0e1b45"/>
  <path d="M615,1055 L930,1055 L927,1400 L915,1782 L840,1792 L775,1250 L745,1500 L690,1742 L615,1722 L595,1400 Z" fill="url(#i4pants)"/>
  <path d="M965,1058 L1038,1058 L1040,1120 L1020,1148 L990,1140 L965,1095 Z" fill="#fcc3b0"/>
  <path d="M640,602 L740,585 L835,610 L960,652 C1010,700 1045,790 1050,870 L1032,1062 L968,1062 L932,850 L930,1060 L618,1060 L620,720 Z" fill="url(#i4shirt)"/>
  <path d="M700,540 L830,520 L825,610 L770,650 L735,600 Z" fill="url(#i4neck)"/>
  <path d="M745,632 L795,625 L792,668 L752,672 Z" fill="#c23bd0"/>
  <path d="M752,672 L792,668 L786,960 L742,990 L695,920 Z" fill="#b48ae8"/>
  <path d="M735,760 L790,740 L788,820 L718,835 Z" fill="#8a5fd6"/>
  <path d="M672,430 C665,380 720,350 770,360 C840,360 880,420 865,480 C860,520 840,545 820,540 L800,490 L740,500 L700,480 Z" fill="#0e1b45"/>
  <path d="M650,492 L702,470 L772,520 L748,562 L690,546 L655,526 Z" fill="#6f8aa8"/>
  <path d="M702,470 L772,520 L748,562 L690,505 Z" fill="#4f6786"/>
  <path d="M770,515 L840,498" stroke="#22305a" stroke-width="10"/>
  <path d="M305,1165 L650,1365" stroke="#e03ee6" stroke-width="32" stroke-linecap="round" fill="none"/>
  <!-- panel -->
  <path d="M172,368 Q172,345 192,357 L815,718 Q835,730 835,755 L835,1215 Q835,1240 815,1228 L192,862 Q172,850 172,828 Z" fill="#aee0fa" opacity="0.78"/>
  <path d="M620,1062 L835,1062 L835,1215 Q835,1240 815,1228 L620,1113 Z" fill="#4f8fe0" opacity="0.55"/>
  <path d="M752,672 L792,668 L786,960 L742,990 L695,920 Z" fill="#a070e0" opacity="0.45"/>
  <path d="M735,760 L790,740 L788,820 L718,835 Z" fill="#7a50d0" opacity="0.5"/>
  <g stroke="#6fa6d8" fill="none">
    <path d="M232,490 V565 M262,470 V585 M296,460 V605 M330,560 V625 M360,530 V640" stroke-width="9"/>
    <path d="M228,568 L365,648" stroke-width="4"/>
    <path d="M245,775 L290,722 L350,860 L400,792 L440,860 L480,797 L545,975 L600,917 L640,990 L690,937 L742,1097" stroke-width="7" stroke-linejoin="round"/>
    <path d="M240,702 L290,647 L350,760 L400,742 L450,800 L500,882 L580,822 L650,910 L700,872 L742,980" stroke-width="3"/>
    <path d="M240,845 L780,1157 L780,720" stroke-width="3"/>
    <path d="M545,632 L700,722 M545,667 L700,757 M545,702 L700,792 M545,737 L700,827" stroke-width="5"/>
  </g>
  <path d="M372,540 C400,520 430,570 432,610 C430,640 400,640 372,625 Z" fill="#c9c3d6"/>
  <g fill="#6fb0e6"><circle cx="437" cy="572" r="10"/><circle cx="475" cy="594" r="10"/><circle cx="437" cy="617" r="10"/><circle cx="475" cy="639" r="10"/><circle cx="437" cy="662" r="10"/><circle cx="475" cy="684" r="10"/></g>
</g>

<g id="icon5" transform="translate(1660,1475) scale(0.16477)">
  <!-- tablet side -->
  <path d="M110,850 Q110,720 215,655 L1160,100 Q1240,55 1300,115 L1340,170 L1340,1180 L300,1800 Q250,1830 200,1795 L150,1760 Q110,1730 110,1680 Z" fill="url(#i5side)"/>
  <!-- front face -->
  <path d="M228,880 Q228,800 300,760 L1265,205 Q1335,165 1335,245 L1335,1130 Q1335,1180 1290,1206 L300,1778 Q228,1818 228,1740 Z" fill="#1e8ffc"/>
  <path d="M246,888 Q246,812 312,775 L1258,228 Q1318,195 1318,260 L1318,1120 Q1318,1168 1278,1192 L312,1752 Q246,1790 246,1725 Z" fill="#eefafe"/>
  <!-- left panel -->
  <path d="M335,812 L775,560 L775,1330 L335,1552 Z" fill="url(#i5mag)"/>
  <path d="M358,1140 L755,915 L755,1310 L358,1520 Z" fill="#eefafe"/>
  <path d="M355,870 L760,632 L802,652 L405,882 Z" fill="#ffb05a"/>
  <path d="M355,870 L405,882 L405,1062 L355,1042 Z" fill="#f2662e"/>
  <path d="M405,882 L802,652 L802,832 L405,1062 Z" fill="url(#i5org)"/>
  <!-- right top -->
  <path d="M838,577 L1245,345 L1245,520 L838,752 Z" fill="url(#i5pb)"/>
  <path d="M838,777 L1245,548 L1245,578 L838,807 Z" fill="#7a4af5"/>
  <path d="M838,837 L1245,608 L1245,638 L838,867 Z" fill="#6a50f5"/>
  <!-- chart shelf -->
  <path d="M850,1055 L1262,948 L1352,1000 L1068,1180 Z" fill="#f2fbfe" stroke="#6a48f0" stroke-width="10" stroke-linejoin="round"/>
  <path d="M945,1062 L945,1010 L1000,952 L1040,932 L1080,882 L1122,862 L1160,792 L1182,905 L1182,935 Z" fill="url(#i5ch1)"/>
  <path d="M1050,1122 L1052,1098 L1100,1052 L1130,1042 L1172,962 L1200,1002 L1250,962 L1272,992 L1272,1010 Z" fill="#2d7ff0"/>
  <!-- person 2 (right) -->
  <path d="M1222,1262 L1275,1240 L1322,1260 L1320,1285 L1250,1302 Z" fill="#14101a"/>
  <path d="M1292,1312 L1345,1290 L1402,1305 L1400,1335 L1320,1352 Z" fill="#14101a"/>
  <path d="M1265,905 L1412,915 L1402,1100 L1398,1302 L1342,1292 L1332,1050 L1312,1252 L1262,1242 Z" fill="url(#i5pants)"/>
  <path d="M1265,692 L1370,672 L1432,722 L1442,800 L1412,918 L1268,908 L1245,822 Z" fill="url(#i5shirt)"/>
  <path d="M1250,800 L1300,700 L1330,720 L1300,840 Z" fill="#ff7a40"/>
  <path d="M1292,610 L1352,600 L1350,690 L1312,720 L1290,690 Z" fill="#ffb39a"/>
  <path d="M1268,600 C1262,565 1310,552 1345,560 C1385,570 1380,630 1365,665 L1350,620 L1300,615 L1285,640 Z" fill="#14101a"/>
  <!-- person 1 (front) -->
  <path d="M638,1775 L690,1755 L752,1790 L748,1842 L700,1838 Z" fill="#14101a"/>
  <path d="M762,1722 L810,1705 L866,1742 L862,1772 L800,1770 Z" fill="#14101a"/>
  <path d="M700,1392 L908,1400 L872,1650 L862,1762 L782,1742 L800,1500 L762,1795 L690,1800 L682,1600 Z" fill="url(#i5pants)"/>
  <path d="M722,1128 L702,1232 L560,1152 L470,1052 L512,1020 L592,1082 Z" fill="#ff7a40"/>
  <path d="M442,1052 L455,942 L478,945 L482,1000 L512,1020 L480,1062 Z" fill="#ffb39a"/>
  <path d="M705,1132 L862,1090 L922,1182 L938,1292 L908,1402 L700,1396 L716,1250 Z" fill="url(#i5shirt)"/>
  <path d="M880,1400 l26,2 l-2,48 l-20,-6 Z" fill="#ffb39a"/>
  <path d="M742,1060 L802,1050 L805,1105 L760,1120 Z" fill="#ffb39a"/>
  <path d="M718,1010 C712,960 760,940 800,950 C850,960 850,1020 835,1085 L800,1090 L760,1060 L735,1075 Z" fill="#14101a"/>
</g>

<g id="icon6" transform="translate(1650,1870) scale(0.14934)">
  <!-- sofa -->
  <path d="M425,1090 L560,950 L900,790 L1270,645 L1500,770 Q1580,830 1580,930 L1610,1180 L1610,1530 L1100,1822 L1030,1760 L1030,1640 L560,1372 L500,1402 L500,1482 L425,1440 Z" fill="#f858c8"/>
  <path d="M430,1085 Q440,960 560,905 L700,850 Q880,820 900,960 L900,1100 L470,1240 Z" fill="#ff8adc"/>
  <path d="M1150,760 L1270,665 L1545,880 L1560,1085 L1250,1170 L1180,1000 Z" fill="#ff8adc"/>
  <path d="M455,1195 L900,960 L1260,1150 L1060,1290 L1000,1425 L900,1365 Z" fill="#ffa6ea"/>
  <path d="M1040,1305 Q1040,1150 1180,1092 L1480,1045 Q1600,1062 1610,1180 L1100,1402 Z" fill="#f562ca"/>
  <path d="M1100,1385 Q1110,1205 1300,1112 L1500,1062 Q1605,1082 1610,1200 L1610,1530 L1100,1822 Z" fill="#e840b8"/>
  <path d="M1030,1332 L1100,1385 L1100,1822 L1030,1760 Z" fill="#f050c0"/>
  <!-- man: shoes -->
  <path d="M560,1600 L720,1632 L700,1682 L560,1752 L480,1742 L490,1682 Z" fill="#cfcbe8"/>
  <path d="M790,1742 L930,1722 L900,1792 L760,1882 L680,1872 L690,1812 Z" fill="#cfcbe8"/>
  <!-- pants -->
  <path d="M620,1180 L900,1090 L1012,1100 L952,1252 L742,1302 L722,1622 L560,1592 L580,1300 Z" fill="#5560e8"/>
  <path d="M1012,1100 L1202,1085 L1192,1200 L952,1322 L932,1702 L790,1742 L782,1332 L900,1240 Z" fill="#5560e8"/>
  <!-- shirt -->
  <path d="M920,562 L1010,522 L1122,560 L1232,592 Q1282,640 1285,720 L1285,882 L1222,1002 L1202,1088 L1010,1092 L890,1002 L900,700 Z" fill="#ffab1c"/>
  <path d="M1170,600 Q1275,640 1285,720 L1285,882 L1222,1002 L1090,962 L1082,902 L1190,902 Z" fill="#ff9a1f"/>
  <path d="M1000,912 L1095,902 L1100,962 L1040,1002 L1000,972 Z" fill="#fdbe9f"/>
  <path d="M900,642 L912,742 L700,762 L630,722 L640,682 Z" fill="#ffab1c"/>
  <path d="M470,690 L520,660 L640,672 L640,722 L560,732 L480,722 Z" fill="#fdbe9f"/>
  <!-- head -->
  <path d="M962,480 L1062,470 L1080,560 L1020,612 L985,560 Z" fill="#fdbe9f"/>
  <path d="M945,292 C1000,250 1100,250 1150,312 C1195,365 1180,445 1120,472 L1100,402 L1000,332 Z" fill="#3a1a3a"/>
  <path d="M940,355 L985,335 L1088,395 L1092,472 L1045,502 L1040,412 Z" fill="#e8e6f2"/>
  <path d="M895,377 L940,355 L1040,412 L1045,502 L1010,522 L900,452 Z" fill="#3d2450"/>
  <path d="M1088,395 L1120,380 L1125,440 L1092,455 Z" fill="#b0a8c8"/>
  <!-- panel -->
  <path d="M128,90 L1040,612 L1040,1402 L128,890 Z" fill="#e4e2f4" opacity="0.68"/>
  <g fill="#b9b5d6" opacity="0.85">
    <path d="M150,150 L340,258 L340,346 L150,238 Z"/>
    <path d="M150,322 L340,430 L340,466 L150,358 Z M150,396 L340,504 L340,540 L150,432 Z M150,470 L340,578 L340,614 L150,506 Z M150,544 L340,652 L340,688 L150,580 Z M150,616 L340,724 L340,760 L150,652 Z M150,690 L340,798 L340,834 L150,726 Z M150,762 L340,870 L340,906 L150,798 Z M150,836 L340,944 L340,980 L150,872 Z"/>
    <path d="M555,385 L740,490 L740,690 L555,585 Z"/>
    <path d="M830,540 L1010,640 L1010,736 L830,636 Z"/>
  </g>
  <path d="M575,775 L760,880 L760,1082 L575,976 Z" fill="#a868b8" opacity="0.6"/>
  <g fill="none" stroke="#b9b5d6" stroke-width="5">
    <path d="M345,515 L540,618 L650,545 M352,815 L520,905 M590,782 L665,920 M520,1000 L520,1110 L800,1270 L800,900"/>
  </g>
  <g fill="#d8d4ec" stroke="#f4f2fc" stroke-width="12">
    <ellipse cx="650" cy="545" rx="10" ry="13"/>
    <ellipse cx="815" cy="805" rx="45" ry="70"/>
    <ellipse cx="665" cy="922" rx="26" ry="40"/>
  </g>
  <g fill="#fff1c4" opacity="0.75">
    <path d="M940,750 L1010,790 L1010,880 L940,840 Z M940,900 L1010,940 L1010,1030 L940,990 Z"/>
  </g>
  <g fill="#e9e7f6" opacity="0.75">
    <path d="M940,1045 L1010,1085 L1010,1170 L940,1130 Z M940,1185 L1010,1225 L1010,1310 L940,1270 Z"/>
  </g>
</g>

<g id="icon7" transform="translate(1620,2215) scale(0.16807)">
  <g stroke-linejoin="round" stroke-width="44">
    <path d="M127,1325 L958,848 L1788,1325 L958,1802 Z" fill="#fbb540" stroke="#fbb540"/>
    <path d="M127,1275 L958,798 L1788,1275 L958,1752 Z" fill="#ee3b3b" stroke="#ee3b3b"/>
    <path d="M127,1228 L958,751 L1788,1228 L958,1705 Z" fill="#fdbb45" stroke="#fdbb45"/>
    <path d="M127,1180 L958,703 L1788,1180 L958,1657 Z" fill="#fdbb45" stroke="#fdbb45"/>
  </g>
  <use href="#i7tower" x="978" y="385"/>
  <use href="#i7tower" x="530" y="645"/>
  <use href="#i7tower" x="1385" y="620"/>
  <use href="#i7tower" x="938" y="885"/>
</g>

<g font-size="76">
<text x="1980.1" y="156.4" textLength="442.4" lengthAdjust="spacingAndGlyphs">Management</text>
<text x="1991.7" y="244.2" textLength="419.2" lengthAdjust="spacingAndGlyphs">and Support</text>
<text x="1960.8" y="515.1" textLength="421.6" lengthAdjust="spacingAndGlyphs">Security and</text>
<text x="2045.8" y="603.9" textLength="248.0" lengthAdjust="spacingAndGlyphs">Privacy</text>
<text x="1925.0" y="879.8" textLength="543.6" lengthAdjust="spacingAndGlyphs">Assessment and</text>
<text x="2037.7" y="968.5" textLength="321.3" lengthAdjust="spacingAndGlyphs">Feedback</text>
<text x="1971.0" y="1246.3" textLength="465.1" lengthAdjust="spacingAndGlyphs">Collaboration</text>
<text x="2028.0" y="1333.9" textLength="349.7" lengthAdjust="spacingAndGlyphs">and Social</text>
<text x="1937.3" y="1572.1" textLength="525.1" lengthAdjust="spacingAndGlyphs">Personalization</text>
<text x="2135.8" y="1660.3" textLength="127.2" lengthAdjust="spacingAndGlyphs">and</text>
<text x="1981.4" y="1749.4" textLength="434.5" lengthAdjust="spacingAndGlyphs">Accessibility</text>
<text x="1994.6" y="1983.4" textLength="414.1" lengthAdjust="spacingAndGlyphs">Content and</text>
<text x="2016.8" y="2071.1" textLength="369.2" lengthAdjust="spacingAndGlyphs">Interaction</text>
<text x="1981.8" y="2398.3" textLength="464.8" lengthAdjust="spacingAndGlyphs">Infrastructure</text>
<text x="193.4" y="1628.0" textLength="346.5" lengthAdjust="spacingAndGlyphs">Metaverse</text>
<text x="70.0" y="1715.7" textLength="594.2" lengthAdjust="spacingAndGlyphs">Classroom Layers</text>
</g>
</svg></body></html>
